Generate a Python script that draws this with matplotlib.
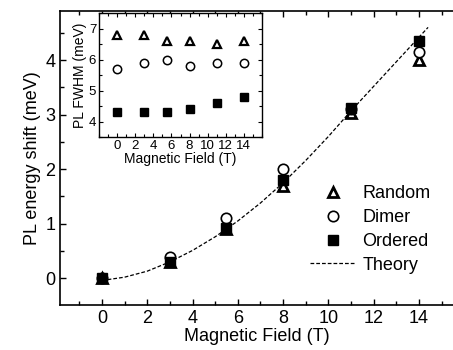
import matplotlib
matplotlib.use("Agg")
import matplotlib.pyplot as plt
from matplotlib.ticker import MultipleLocator, FixedLocator
from matplotlib.lines import Line2D

plt.rcParams['font.family'] = ['Liberation Sans', 'DejaVu Sans']

# main data
field = [0, 3, 5.5, 8, 11, 14]
shift_random = [0.0, 0.30, 0.90, 1.70, 3.03, 4.00]
shift_dimer = [0.0, 0.39, 1.10, 2.00, 3.10, 4.15]
shift_ordered = [0.0, 0.30, 0.92, 1.80, 3.12, 4.35]

theory_b = [0, 1, 2, 3, 4, 5, 6, 7, 8, 9, 10, 11, 12, 13, 14, 14.4]
theory_e = [-0.04, 0.02, 0.13, 0.30, 0.51, 0.76, 1.05, 1.38, 1.75, 2.16, 2.60, 3.07, 3.52, 3.97, 4.42, 4.60]

# inset data
fwhm_random = [6.8, 6.8, 6.6, 6.6, 6.5, 6.6]
fwhm_dimer = [5.7, 5.9, 6.0, 5.8, 5.9, 5.9]
fwhm_ordered = [4.3, 4.3, 4.3, 4.4, 4.6, 4.8]
inset_xticks = [0, 2, 4, 6, 8, 10, 12, 14]

fig = plt.figure(figsize=(4.53, 3.5), dpi=100)
ax = fig.add_axes([60/453, 45/350, 393/453, 294/350])

ax.plot(theory_b, theory_e, color='black', lw=0.9, dashes=(3, 1.6), zorder=2)
ax.plot(field, shift_random, ls='none', marker='^', ms=7.5, mfc='white', mec='black', mew=2, zorder=3)
ax.plot(field, shift_dimer, ls='none', marker='o', ms=7.5, mfc='white', mec='black', mew=1.2, zorder=3)
ax.plot(field, shift_ordered, ls='none', marker='s', ms=7, mfc='black', mec='black', zorder=4)

ax.set_xlim(-1.85, 15.5)
ax.set_ylim(-0.49, 4.9)
ax.xaxis.set_major_locator(MultipleLocator(2))
ax.xaxis.set_minor_locator(MultipleLocator(1))
ax.yaxis.set_major_locator(MultipleLocator(1))
ax.yaxis.set_minor_locator(MultipleLocator(0.5))
ax.tick_params(which='both', direction='in', top=True, right=False, labelsize=13, width=1)
ax.tick_params(which='major', length=4)
ax.tick_params(which='minor', length=3)
ax.spines['right'].set_visible(False)
for s in ['left', 'bottom', 'top']:
    ax.spines[s].set_linewidth(1.2)
ax.set_xlabel('Magnetic Field (T)', fontsize=13, labelpad=1)
ax.set_ylabel('PL energy shift (meV)', fontsize=13, labelpad=3)

handles = [
    Line2D([], [], ls='none', marker='^', ms=7.5, mfc='white', mec='black', mew=2),
    Line2D([], [], ls='none', marker='o', ms=7.5, mfc='white', mec='black', mew=1.2),
    Line2D([], [], ls='none', marker='s', ms=7, mfc='black', mec='black'),
    Line2D([], [], color='black', lw=0.9, dashes=(3, 1.6)),
]
ax.legend(handles, ['Random', 'Dimer', 'Ordered', 'Theory'], loc='upper left',
          bbox_to_anchor=(0.618, 0.432), frameon=False, fontsize=13,
          handlelength=2.5, handletextpad=0.4, labelspacing=0.38, borderaxespad=0)

ins = fig.add_axes([99/453, 213/350, 163/453, 124/350])
ins.plot(field, fwhm_random, ls='none', marker='^', ms=6, mfc='white', mec='black', mew=1.6)
ins.plot(field, fwhm_dimer, ls='none', marker='o', ms=6, mfc='white', mec='black', mew=1.1)
ins.plot(field, fwhm_ordered, ls='none', marker='s', ms=6, mfc='black', mec='black')
ins.set_xlim(-2, 16)
ins.set_ylim(3.5, 7.5)
ins.xaxis.set_major_locator(FixedLocator(inset_xticks))
ins.xaxis.set_minor_locator(MultipleLocator(1))
ins.yaxis.set_major_locator(MultipleLocator(1))
ins.yaxis.set_minor_locator(MultipleLocator(0.5))
ins.tick_params(which='both', direction='in', top=True, right=True, labelsize=9.5, width=0.8, pad=2)
ins.tick_params(which='major', length=3)
ins.tick_params(which='minor', length=2)
for s in ins.spines.values():
    s.set_linewidth(1.0)
ins.set_xlabel('Magnetic Field (T)', fontsize=10, labelpad=0)
ins.set_ylabel('PL FWHM (meV)', fontsize=10, labelpad=1)

fig.savefig('out.png', dpi=100)
